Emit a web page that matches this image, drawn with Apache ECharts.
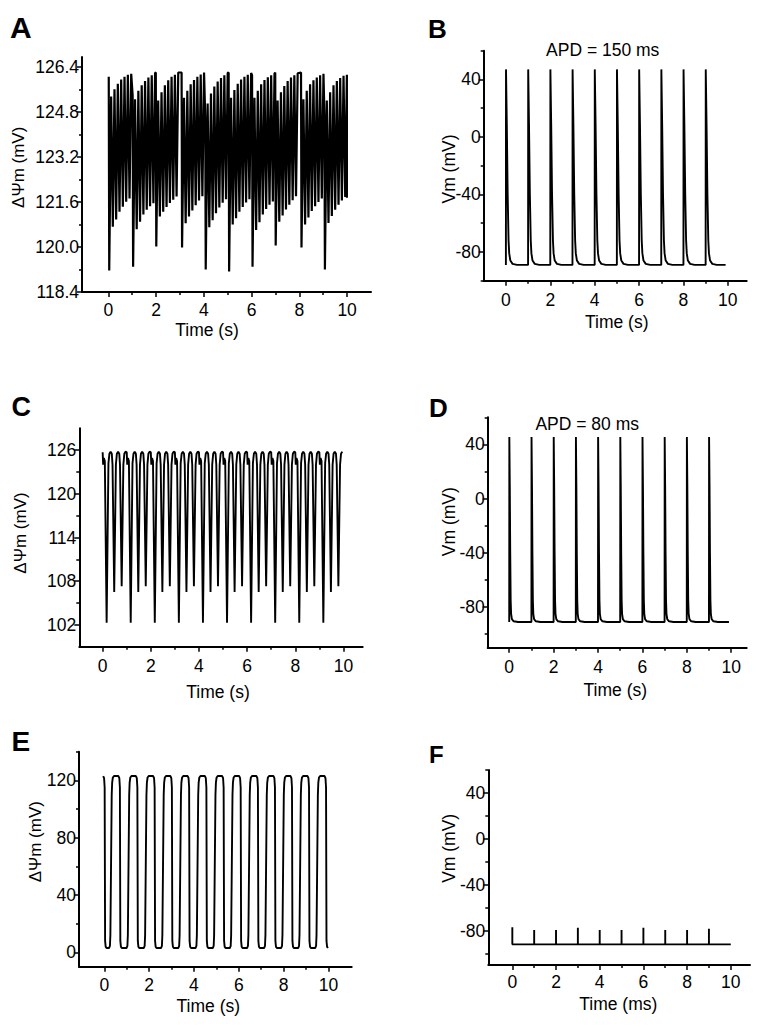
<!DOCTYPE html>
<html>
<head>
<meta charset="utf-8">
<title>Membrane potential panels</title>
<script src="https://cdn.jsdelivr.net/npm/echarts@6.0.0/dist/echarts.min.js"></script>
<style>
html, body { margin: 0; padding: 0; background: #ffffff; }
#chart { width: 764px; height: 1027px; }
</style>
</head>
<body>
<div id="chart"></div>
<script>
var FONT = '"Liberation Sans", Arial, Helvetica, sans-serif';

// x axis ticks (all panels)
var xTickLabels = [0, 2, 4, 6, 8, 10];
var xMinorTicks = [1, 3, 5, 7, 9];

// y axis ticks
var aYTicks = [118.4, 120.0, 121.6, 123.2, 124.8, 126.4];
var aYMinor = [119.2, 120.8, 122.4, 124.0, 125.6];
var vmYTicks = [-80, -40, 0, 40];
var vmYMinor = [-100, -60, -20, 20, 60];
var cYTicks = [102, 108, 114, 120, 126];
var cYMinor = [105, 111, 117, 123];
var eYTicks = [0, 40, 80, 120];
var eYMinor = [20, 60, 100, 140];

// A: dPsi_m, one deep drop per beat then six small oscillations
var aBeatTime = [0.04, 1.04, 2.01, 3.09, 4.08, 5.06, 6.04, 7.01, 8.09, 9.07];
var aBeatMin = [119.16, 119.30, 120.02, 119.98, 119.20, 119.13, 119.30, 120.05, 119.98, 119.20];
var aPreTop = [126.05, 125.40, 126.20, 126.20, 124.62, 126.20, 126.10, 126.20, 126.20, 124.70];
var aTopOffset = [0.08, 0.22, 0.36, 0.50, 0.64, 0.78, 0.92];
var aTroughOffset = [0.15, 0.29, 0.43, 0.57, 0.71, 0.85];
var aTops = [
    [125.35, 125.60, 125.80, 125.95, 126.05, 126.12, 126.15],
    [125.25, 125.55, 125.75, 125.90, 126.02, 126.10, 126.18],
    [125.20, 125.50, 125.75, 125.92, 126.05, 126.12, 126.20],
    [125.30, 125.55, 125.78, 125.93, 126.05, 126.13, 126.20],
    [125.10, 125.45, 125.70, 125.88, 126.00, 126.10, 126.18],
    [125.30, 125.58, 125.80, 125.95, 126.05, 126.12, 126.18],
    [125.30, 125.55, 125.78, 125.93, 126.03, 126.10, 126.16],
    [125.20, 125.50, 125.72, 125.90, 126.02, 126.10, 126.17],
    [125.25, 125.55, 125.78, 125.92, 126.02, 126.10, 126.15],
    [125.20, 125.50, 125.75, 125.90, 126.00, 126.08, 126.12]
];
var aTroughs = [
    [120.72, 120.98, 121.25, 121.43, 121.61, 121.72],
    [120.63, 120.90, 121.15, 121.32, 121.45, 121.55],
    [121.08, 121.25, 121.42, 121.56, 121.68, 121.79],
    [120.84, 121.08, 121.30, 121.48, 121.65, 121.80],
    [120.70, 120.95, 121.20, 121.40, 121.57, 121.70],
    [120.80, 121.02, 121.25, 121.42, 121.58, 121.70],
    [120.60, 120.88, 121.15, 121.35, 121.50, 121.62],
    [120.90, 121.12, 121.33, 121.50, 121.66, 121.80],
    [120.80, 121.05, 121.28, 121.45, 121.60, 121.72],
    [120.85, 121.10, 121.32, 121.50, 121.65, 121.78]
];
var aEnd = [9.99, 121.75];

// B: Vm, APD = 150 ms
var bBeatTime = [0, 1, 2, 3, 4, 5, 6, 7, 8, 9];
var bPeak = [47, 47, 47, 47, 47, 47, 47, 47, 47, 47];
var bRest = -89;
var bShapeOffset = [0.005, 0.04, 0.08, 0.12, 0.15, 0.20, 0.30, 0.50];
var bShapeValue = [47, 10, -40, -72, -81, -86, -88.3, -89];
var bEnd = 9.9;

// C: dPsi_m, three dips per beat
var cBeatTime = [0, 1, 2, 3, 4, 5, 6, 7, 8, 9];
var cShapeOffset = [0.00, 0.02, 0.05, 0.09, 0.165, 0.24, 0.28, 0.33, 0.38, 0.41,
    0.48, 0.55, 0.59, 0.64, 0.69, 0.72, 0.79, 0.86, 0.90, 0.95];
var cShapeValue = [125.7, 124.0, 124.9, 124.5, 102.3, 124.2, 125.5, 125.8, 125.5, 124.0,
    106.5, 124.0, 125.5, 125.8, 125.5, 124.0, 107.3, 124.0, 125.5, 125.8];
var cEnd = [9.97, 125.8];

// D: Vm, APD = 80 ms
var dBeatTime = [0, 1, 2, 3, 4, 5, 6, 7, 8, 9];
var dPeak = [45.5, 45.5, 45.5, 45.5, 45.5, 45.5, 45.5, 45.5, 45.5, 45.5];
var dRest = -91;
var dShapeOffset = [0.005, 0.025, 0.045, 0.065, 0.085, 0.12, 0.20, 0.40];
var dShapeValue = [45.5, 10, -40, -75, -85, -89, -90.5, -91];
var dEnd = 9.9;

// E: dPsi_m, slow square-like oscillation
var eDrop = [0.02, 0.70, 1.48, 2.25, 3.02, 3.79, 4.56, 5.33, 6.09, 6.86, 7.62, 8.38, 9.14, 9.90];
var eRise = [0.29, 1.07, 1.84, 2.61, 3.38, 4.15, 4.92, 5.68, 6.45, 7.21, 7.97, 8.73, 9.49];
var eRiseOffset = [-0.08, -0.04, -0.02, 0.04, 0.06, 0.09, 0.14];
var eRiseValue = [3, 4.5, 12, 110, 118.5, 122, 123];
var eDropOffset = [-0.07, -0.03, -0.005, 0.015, 0.04, 0.08];
var eDropValue = [123, 121.5, 115, 8, 4, 3];
var eEnd = [10.0, 3];

// F: Vm, stimulus only
var fSpikeTime = [0, 1, 2, 3, 4, 5, 6, 7, 8, 9];
var fSpikeTop = [-77, -79.5, -79.5, -77.5, -79.5, -79.5, -77.5, -79.5, -79.5, -78.5];
var fBase = -92;
var fEnd = 10;

function buildA()
{
    var pts = [];
    for (var k = 0; k < aBeatTime.length; k++) {
        var t0 = aBeatTime[k];
        pts.push([t0 - 0.02, aPreTop[k]]);
        pts.push([t0, aBeatMin[k]]);
        for (var j = 0; j < aTopOffset.length; j++) {
            pts.push([t0 + aTopOffset[j], aTops[k][j]]);
            if (j < aTroughOffset.length)
                pts.push([t0 + aTroughOffset[j], aTroughs[k][j]]);
        }
    }
    pts.push(aEnd.slice());
    return pts;
}

function buildSpikes(beats, peaks, rest, offs, vals, end)
{
    var pts = [];
    for (var k = 0; k < beats.length; k++) {
        pts.push([beats[k], rest]);
        pts.push([beats[k] + offs[0], peaks[k]]);
        for (var j = 1; j < offs.length; j++)
            pts.push([beats[k] + offs[j], vals[j]]);
    }
    pts.push([end, rest]);
    return pts;
}

function buildC()
{
    var pts = [];
    for (var k = 0; k < cBeatTime.length; k++)
        for (var j = 0; j < cShapeOffset.length; j++)
            pts.push([cBeatTime[k] + cShapeOffset[j], cShapeValue[j]]);
    pts.push(cEnd.slice());
    return pts;
}

function buildE()
{
    var pts = [];
    var j;
    for (var k = 0; k < eDrop.length; k++) {
        for (j = 0; j < eDropOffset.length; j++)
            pts.push([eDrop[k] + eDropOffset[j], eDropValue[j]]);
        if (k < eRise.length)
            for (j = 0; j < eRiseOffset.length; j++)
                pts.push([eRise[k] + eRiseOffset[j], eRiseValue[j]]);
    }
    pts.push(eEnd.slice());
    return pts;
}

function buildF()
{
    var pts = [];
    for (var k = 0; k < fSpikeTime.length; k++) {
        if (k > 0)
            pts.push([fSpikeTime[k], fBase]);
        pts.push([fSpikeTime[k], fSpikeTop[k]]);
        pts.push([fSpikeTime[k], fBase]);
    }
    pts.push([fEnd, fBase]);
    return pts;
}

var panels = [
    {grid: {left: 82, top: 57, width: 289, height: 235}, x: [-1.1, 11], y: [118.4, 126.75],
     yMajor: aYTicks, yMinor: aYMinor, dec: 1, data: buildA(), lw: 2.2, xm: 9},
    {grid: {left: 483.7, top: 50.7, width: 263, height: 230}, x: [-1.0, 10.85], y: [-100, 60],
     yMajor: vmYTicks, yMinor: vmYMinor, dec: 0,
     data: buildSpikes(bBeatTime, bPeak, bRest, bShapeOffset, bShapeValue, bEnd), lw: 1.9, xm: 10},
    {grid: {left: 79.3, top: 428.3, width: 283.4, height: 218.4}, x: [-0.97, 10.8], y: [99, 129],
     yMajor: cYTicks, yMinor: cYMinor, dec: 0, data: buildC(), lw: 1.9, xm: 10},
    {grid: {left: 487.7, top: 417.3, width: 259, height: 230.4}, x: [-0.97, 10.7], y: [-110, 60],
     yMajor: vmYTicks, yMinor: vmYMinor, dec: 0,
     data: buildSpikes(dBeatTime, dPeak, dRest, dShapeOffset, dShapeValue, dEnd), lw: 1.9, xm: 10},
    {grid: {left: 79, top: 751.7, width: 272.7, height: 215}, x: [-1.13, 11.04], y: [-10, 140],
     yMajor: eYTicks, yMinor: eYMinor, dec: 0, data: buildE(), lw: 1.9, xm: 9},
    {grid: {left: 488.3, top: 770, width: 261.7, height: 195}, x: [-1.1, 10.88], y: [-110, 60],
     yMajor: vmYTicks, yMinor: vmYMinor, dec: 0, data: buildF(), lw: 1.9, xm: 8}
];

var texts = [
    // panel letters
    {t: 'A', x: 10, y: 27.5, size: 30, bold: true, align: 'left'},
    {t: 'B', x: 428, y: 29.2, size: 26, bold: true, align: 'left'},
    {t: 'C', x: 11.5, y: 406.7, size: 27, bold: true, align: 'left'},
    {t: 'D', x: 429, y: 407.5, size: 26, bold: true, align: 'left'},
    {t: 'E', x: 11.5, y: 741.7, size: 28, bold: true, align: 'left'},
    {t: 'F', x: 429, y: 754.7, size: 24, bold: true, align: 'left'},
    // titles
    {t: 'APD = 150 ms', x: 602.7, y: 49.5, size: 17.5},
    {t: 'APD = 80 ms', x: 587.2, y: 423.5, size: 17.5},
    // x axis names
    {t: 'Time (s)', x: 207, y: 330, size: 17.5},
    {t: 'Time (s)', x: 616.7, y: 321.7, size: 17.5},
    {t: 'Time (s)', x: 218, y: 691.7, size: 17.5},
    {t: 'Time (s)', x: 615.3, y: 690, size: 17.5},
    {t: 'Time (s)', x: 208.3, y: 1005.5, size: 17.5},
    {t: 'Time (ms)', x: 618.3, y: 1003.5, size: 17.5},
    // y axis names
    {t: '\u0394\u03A8m (mV)', x: 18.7, y: 167.3, size: 17, rot: true},
    {t: 'Vm (mV)', x: 448.5, y: 169, size: 17.5, rot: true},
    {t: '\u0394\u03A8m (mV)', x: 20.5, y: 533, size: 17, rot: true},
    {t: 'Vm (mV)', x: 448.8, y: 521.7, size: 17.5, rot: true},
    {t: '\u0394\u03A8m (mV)', x: 35.8, y: 841.7, size: 17, rot: true},
    {t: 'Vm (mV)', x: 449, y: 848.3, size: 17.5, rot: true}
];

var chart = echarts.init(document.getElementById('chart'), null, {renderer: 'svg'});

var grids = [], xAxes = [], yAxes = [], series = [];

panels.forEach(function (p, i) {
    var g = p.grid;
    grids.push({left: g.left, top: g.top, width: g.width, height: g.height,
        containLabel: false, outerBoundsMode: 'none'});
    var lineStyle = {color: '#000', width: 2};
    var labelStyle = {color: '#000', fontSize: 17.5, fontFamily: FONT};
    xAxes.push({
        type: 'value', gridIndex: i, min: p.x[0], max: p.x[1], position: 'bottom',
        axisLine: {show: true, onZero: false, lineStyle: lineStyle},
        axisTick: {show: true, customValues: xTickLabels, length: 5, lineStyle: {color: '#000', width: 1.5}},
        axisLabel: Object.assign({customValues: xTickLabels, margin: p.xm}, labelStyle),
        splitLine: {show: false}
    });
    xAxes.push({
        type: 'value', gridIndex: i, min: p.x[0], max: p.x[1], position: 'bottom',
        axisLine: {show: false, onZero: false},
        axisTick: {show: true, customValues: xMinorTicks, length: 3, lineStyle: {color: '#000', width: 1.5}},
        axisLabel: {show: false},
        splitLine: {show: false}
    });
    yAxes.push({
        type: 'value', gridIndex: i, min: p.y[0], max: p.y[1], position: 'left',
        axisLine: {show: true, onZero: false, lineStyle: lineStyle},
        axisTick: {show: true, customValues: p.yMajor, length: 5, lineStyle: {color: '#000', width: 1.5}},
        axisLabel: Object.assign({customValues: p.yMajor, margin: 3,
            formatter: (function (dec) {
                return function (v) { return Number(v).toFixed(dec); };
            })(p.dec)}, labelStyle),
        splitLine: {show: false}
    });
    yAxes.push({
        type: 'value', gridIndex: i, min: p.y[0], max: p.y[1], position: 'left',
        axisLine: {show: false, onZero: false},
        axisTick: {show: true, customValues: p.yMinor, length: 3, lineStyle: {color: '#000', width: 1.5}},
        axisLabel: {show: false},
        splitLine: {show: false}
    });
    series.push({
        type: 'line', xAxisIndex: 2 * i, yAxisIndex: 2 * i, data: p.data,
        showSymbol: false, symbol: 'none', silent: true,
        lineStyle: {color: '#000', width: p.lw}
    });
});

var graphic = texts.map(function (s) {
    return {
        type: 'text', x: s.x, y: s.y, rotation: s.rot ? Math.PI / 2 : 0, silent: true,
        style: {
            text: s.t, fill: '#000', fontSize: s.size, fontFamily: FONT,
            fontWeight: s.bold ? 'bold' : 'normal',
            align: s.align || 'center', verticalAlign: 'middle'
        }
    };
});

chart.setOption({
    animation: false,
    backgroundColor: '#ffffff',
    grid: grids,
    xAxis: xAxes,
    yAxis: yAxes,
    series: series,
    graphic: graphic
});
</script>
</body>
</html>
